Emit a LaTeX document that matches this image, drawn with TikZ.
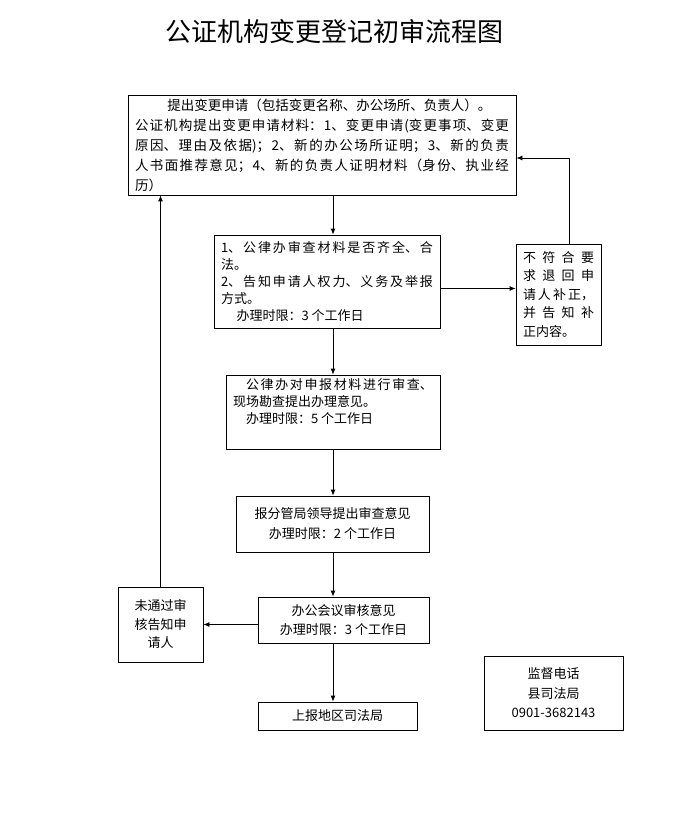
\documentclass[tikz,border=0pt]{standalone}
\usepackage{fontspec}
\setmainfont{Noto Sans CJK SC}
\usetikzlibrary{arrows.meta}
\XeTeXlinebreaklocale "zh"
\XeTeXlinebreakskip=0pt plus 6pt
\setlength{\parindent}{0pt}

\begin{document}
\begin{tikzpicture}[x=1pt,y=-1pt,
	box/.style={draw,line width=0.8pt,inner xsep=7pt,inner ysep=3pt,font=\fontsize{13}{18}\selectfont},
	arr/.style={-{Latex[length=6pt,width=5pt]},line width=0.8pt}]
	\useasboundingbox (0,0) rectangle (692,826);

	\node (0) at (334,32) {\fontsize{26}{30}\selectfont 公证机构变更登记初审流程图};

	\node[box,text width=374pt,minimum height=100pt,align=justify,font=\fontsize{13.5}{20}\selectfont] (1) at (322,145) {\hspace*{2.4em}提出变更申请（包括变更名称、办公场所、负责人）。\par 公证机构提出变更申请材料：1、变更申请(变更事项、变更\linebreak 原因、理由及依据)；2、新的办公场所证明；3、新的负责\linebreak 人书面推荐意见；4、新的负责人证明材料（身份、执业经\linebreak 历）};
	\node[box,text width=212pt,minimum height=93pt,align=justify,font=\fontsize{13}{17}\selectfont] (2) at (327,281.5) {1、公律办审查材料是否齐全、合\linebreak 法。\par 2、告知申请人权力、义务及举报\linebreak 方式。\par \hspace*{1.2em}办理时限：3 个工作日};
	\node[box,text width=71pt,minimum height=101pt,align=justify,font=\fontsize{13}{18.5}\selectfont] (3) at (558.5,294.5) {不符合要\linebreak 求退回申\linebreak 请人补正，\linebreak 并告知补\linebreak 正内容。};
	\node[box,text width=200pt,minimum height=74pt,align=justify,font=\fontsize{13}{17}\selectfont] (4) at (333,412) {\hspace*{1em}公律办对申报材料进行审查、\linebreak 现场勘查提出办理意见。\par \hspace*{1em}办理时限：5 个工作日\par\strut};
	\node[box,minimum width=193pt,minimum height=56pt,align=center,font=\fontsize{13}{20}\selectfont] (5) at (332.5,524) {报分管局领导提出审查意见\\办理时限：2 个工作日};
	\node[box,minimum width=171pt,minimum height=46pt,align=center,font=\fontsize{13}{19}\selectfont] (6) at (343.5,620) {办公会议审核意见\\办理时限：3 个工作日};
	\node[box,minimum width=85pt,minimum height=75pt,align=center,font=\fontsize{13}{18.5}\selectfont] (7) at (160.5,624.5) {未通过审\\核告知申\\请人};
	\node[box,minimum width=159pt,minimum height=28pt] (8) at (337.5,716) {上报地区司法局};
	\node[box,minimum width=139pt,minimum height=74pt,align=center,font=\fontsize{13}{19.5}\selectfont] (9) at (553.5,693) {监督电话\\县司法局\\0901-3682143};

	\path [arr] (1.south -| 4) edge (2.north -| 4);
	\path [arr] (2.south -| 4) edge (4.north);
	\path [arr] (4.south) edge (5.north -| 4);
	\path [arr] (5.south -| 4) edge (6.north -| 4);
	\path [arr] (6.south -| 4) edge (8.north -| 4);
	\path [arr] ([yshift=-7pt]2.east) edge ([yshift=-7pt]2.east -| 3.west);
	\draw [arr] ([xshift=11pt]3.north) |- ([yshift=-13pt]1.east);
	\path [arr] (6.west |- 7.east) edge (7.east);
	\path [arr] (7.north) edge (7.north |- 1.south);
\end{tikzpicture}
\end{document}
